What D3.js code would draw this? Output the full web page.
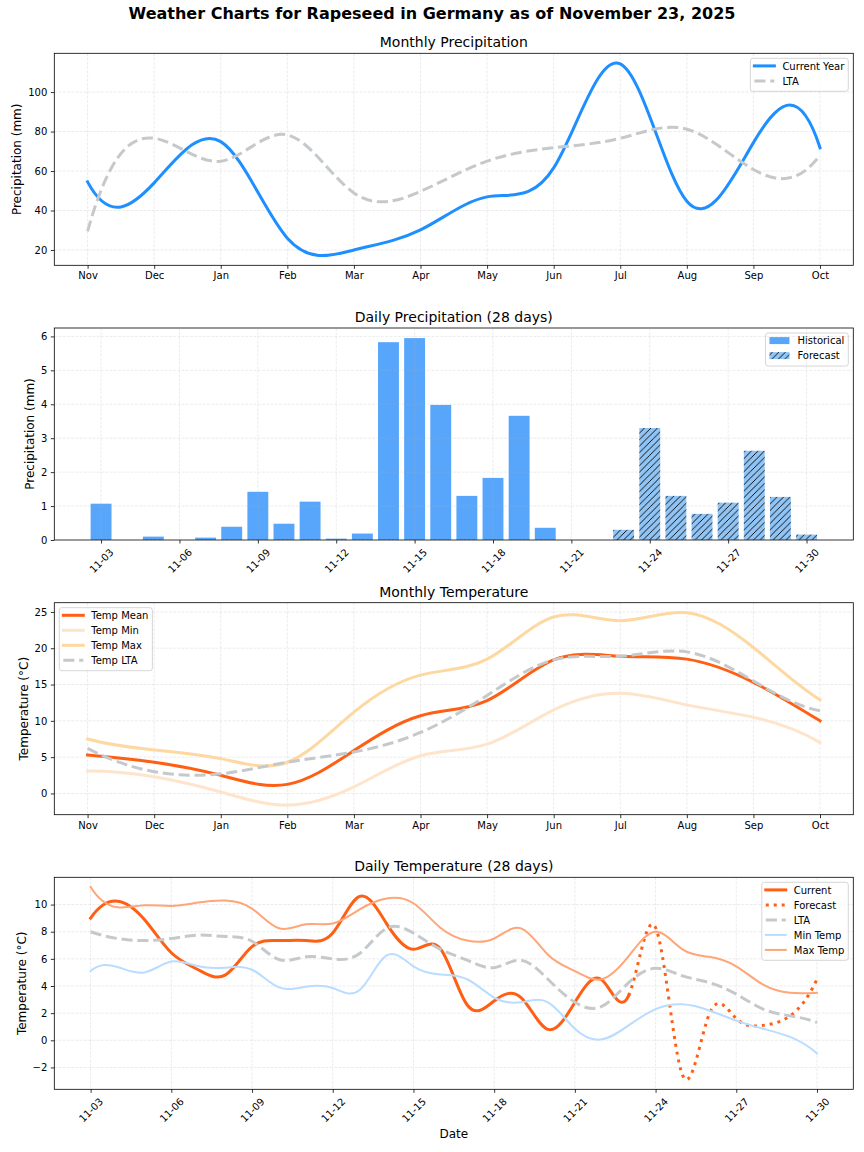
<!DOCTYPE html>
<html>
<head>
<meta charset="utf-8">
<script src="https://cdn.jsdelivr.net/npm/d3@7"></script>
<style>
  body { margin: 0; background: #fff; }
  svg { display: block; font-family: "DejaVu Sans", sans-serif; }
</style>
</head>
<body>
<svg id="chart" width="864" height="1152"></svg>
<script>
// monthly data (Nov .. Oct)
const months = ["Nov", "Dec", "Jan", "Feb", "Mar", "Apr", "May", "Jun", "Jul", "Aug", "Sep", "Oct"];
const precipCurrent = [54.5, 54.0, 74.9, 26.0, 20.0, 30.2, 46.9, 61.6, 114.3, 44.7, 74.4, 71.8];
const precipLTA = [29.4, 76.6, 65.0, 78.3, 48.9, 49.7, 65.0, 71.8, 76.6, 81.2, 60.8, 68.1];
const tempMean = [5.3, 4.3, 2.5, 1.25, 5.9, 10.7, 12.8, 18.4, 18.9, 18.5, 15.3, 10.0];
const tempMin = [3.1, 2.3, 0.2, -1.6, 0.9, 5.2, 6.8, 11.5, 13.8, 12.2, 10.5, 7.0];
const tempMax = [7.5, 6.0, 4.8, 4.3, 11.2, 16.3, 18.5, 24.3, 23.8, 24.9, 20.1, 12.9];
const tempLTA = [6.2, 3.0, 2.7, 4.3, 5.7, 8.4, 13.5, 18.4, 18.9, 19.5, 15.5, 11.4];

// daily data (28 days)
const days = ["11-03", "11-04", "11-05", "11-06", "11-07", "11-08", "11-09", "11-10", "11-11", "11-12",
  "11-13", "11-14", "11-15", "11-16", "11-17", "11-18", "11-19", "11-20", "11-21", "11-22",
  "11-23", "11-24", "11-25", "11-26", "11-27", "11-28", "11-29", "11-30"];
const dayTicks = ["11-03", "11-06", "11-09", "11-12", "11-15", "11-18", "11-21", "11-24", "11-27", "11-30"];
// historical 11-03 .. 11-22, forecast 11-23 .. 11-30
const dailyPrecipHist = [1.07, 0, 0.10, 0, 0.07, 0.39, 1.42, 0.48, 1.13, 0.04,
  0.19, 5.83, 5.95, 3.98, 1.30, 1.83, 3.66, 0.36, 0, 0];
const dailyPrecipFcst = [0.30, 3.30, 1.30, 0.77, 1.10, 2.63, 1.27, 0.16];
const dailyTempCurrent = [9.0, 10.25, 8.9, 6.45, 5.2, 4.8, 6.9, 7.35, 7.35, 7.9,
  10.6, 8.6, 6.7, 6.75, 2.6, 2.9, 3.15, 0.8, 2.8, 4.45];
const dailyTempFcst = [3.3, 8.3, -2.55, 1.95, 1.6, 1.1, 1.8, 4.5];
const dailyTempLTA = [8.0, 7.5, 7.35, 7.5, 7.75, 7.65, 7.3, 5.95, 6.15, 6.0,
  6.4, 8.25, 7.9, 6.7, 5.9, 5.35, 5.9, 4.5, 2.8, 2.5,
  4.25, 5.3, 4.75, 4.25, 3.4, 2.3, 1.8, 1.3];
const dailyTempMin = [5.1, 5.4, 5.0, 5.8, 5.45, 5.35, 5.2, 3.9, 3.95, 3.85,
  3.7, 6.25, 5.45, 4.85, 4.5, 3.15, 2.8, 2.8, 0.85, 0.07,
  1.1, 2.3, 2.65, 2.2, 1.45, 0.85, 0.25, -0.97];
const dailyTempMax = [11.3, 9.8, 9.95, 9.9, 10.15, 10.3, 9.7, 8.25, 8.55, 8.6,
  9.65, 10.45, 10.1, 8.3, 7.35, 7.5, 8.25, 6.3, 5.1, 4.5,
  6.2, 8.0, 6.7, 6.15, 5.45, 4.1, 3.5, 3.5];

// tick values
const precipTicks = [20, 40, 60, 80, 100];
const dailyPrecipTicks = [0, 1, 2, 3, 4, 5, 6];
const tempTicks = [0, 5, 10, 15, 20, 25];
const dailyTempTicks = [-2, 0, 2, 4, 6, 8, 10];

// colours
const blue = "#1e8fff", gray = "#c6c9cc", orange = "#ff5f14";
const histBlue = "#58a6fb", fcstBlue = "#8fc4f5";

const svg = d3.select("#chart");
const L = 54.3, R = 853.3, PH = 212;
const tops = [53.3, 328, 602.7, 877.3];

// cubic spline with not-a-knot ends (slopes at the knots)
function knotSlopes(x, y) {
  const n = x.length, dx = [], sl = [];
  for (let i = 0; i < n - 1; i++) { dx.push(x[i + 1] - x[i]); sl.push((y[i + 1] - y[i]) / dx[i]); }
  if (n === 2) return [sl[0], sl[0]];
  if (n === 3) {
    const c = (sl[1] - sl[0]) / (x[2] - x[0]);
    return [sl[0] - c * dx[0], sl[0] + c * dx[0], sl[1] + c * dx[1]];
  }
  const A = Array.from({length: n}, () => new Array(n).fill(0)), b = new Array(n).fill(0);
  let d = dx[0] + dx[1];
  A[0][0] = dx[1]; A[0][1] = d;
  b[0] = ((dx[0] + 2 * d) * dx[1] * sl[0] + dx[0] * dx[0] * sl[1]) / d;
  for (let i = 1; i < n - 1; i++) {
    A[i][i - 1] = dx[i]; A[i][i] = 2 * (dx[i - 1] + dx[i]); A[i][i + 1] = dx[i - 1];
    b[i] = 3 * (dx[i] * sl[i - 1] + dx[i - 1] * sl[i]);
  }
  d = dx[n - 3] + dx[n - 2];
  A[n - 1][n - 2] = d; A[n - 1][n - 1] = dx[n - 3];
  b[n - 1] = (dx[n - 2] * dx[n - 2] * sl[n - 3] + (2 * d + dx[n - 2]) * dx[n - 3] * sl[n - 2]) / d;
  for (let k = 0; k < n; k++) {
    let p = k;
    for (let i = k + 1; i < n; i++) if (Math.abs(A[i][k]) > Math.abs(A[p][k])) p = i;
    [A[k], A[p]] = [A[p], A[k]]; [b[k], b[p]] = [b[p], b[k]];
    for (let i = k + 1; i < n; i++) {
      const f = A[i][k] / A[k][k];
      if (!f) continue;
      for (let j = k; j < n; j++) A[i][j] -= f * A[k][j];
      b[i] -= f * b[k];
    }
  }
  const m = new Array(n);
  for (let i = n - 1; i >= 0; i--) {
    let s = b[i];
    for (let j = i + 1; j < n; j++) s -= A[i][j] * m[j];
    m[i] = s / A[i][i];
  }
  return m;
}

// d3 curve factory: spline fitted through all points, drawn only between knots i0..i1
function curveSplinePart(i0, i1) {
  return function (context) {
    let xs, ys;
    return {
      areaStart() {}, areaEnd() {},
      lineStart() { xs = []; ys = []; },
      point(x, y) { xs.push(+x); ys.push(+y); },
      lineEnd() {
        const n = xs.length;
        if (!n) return;
        const a = Math.max(0, i0), b = Math.min(n - 1, i1);
        context.moveTo(xs[a], ys[a]);
        if (n === 1) return;
        const m = knotSlopes(xs, ys);
        for (let i = a; i < b; i++) {
          const h = xs[i + 1] - xs[i];
          context.bezierCurveTo(xs[i] + h / 3, ys[i] + m[i] * h / 3,
            xs[i + 1] - h / 3, ys[i + 1] - m[i + 1] * h / 3, xs[i + 1], ys[i + 1]);
        }
      }
    };
  };
}
const curveSpline = curveSplinePart(0, Infinity);

// min/max reached by the smoothed curve (for axis limits)
function splineExtent(xs, ys) {
  const m = knotSlopes(xs, ys);
  let lo = Infinity, hi = -Infinity;
  for (let i = 0; i < xs.length - 1; i++) {
    const h = xs[i + 1] - xs[i];
    for (let k = 0; k <= 40; k++) {
      const t = k / 40, t2 = t * t, t3 = t2 * t;
      const v = (2 * t3 - 3 * t2 + 1) * ys[i] + (t3 - 2 * t2 + t) * h * m[i] +
        (-2 * t3 + 3 * t2) * ys[i + 1] + (t3 - t2) * h * m[i + 1];
      lo = Math.min(lo, v); hi = Math.max(hi, v);
    }
  }
  return [lo, hi];
}
function padded(ext) { const r = ext[1] - ext[0]; return [ext[0] - 0.05 * r, ext[1] + 0.05 * r]; }
function unionExt(list) { return [d3.min(list, e => e[0]), d3.max(list, e => e[1])]; }

// suptitle
svg.append("text").attr("x", 432).attr("y", 19).attr("text-anchor", "middle")
  .attr("font-size", 16).attr("font-weight", "bold")
  .text("Weather Charts for Rapeseed in Germany as of November 23, 2025");

function panel(i, title) {
  const top = tops[i], bottom = top + PH;
  const g = svg.append("g");
  g.append("text").attr("x", (L + R) / 2).attr("y", top - 6).attr("text-anchor", "middle")
    .attr("font-size", 14).text(title);
  const grid = g.append("g").attr("stroke", "#b0b0b0").attr("stroke-opacity", 0.3)
    .attr("stroke-width", 0.8).attr("stroke-dasharray", "2.96,1.28");
  const data = g.append("g");
  const axes = g.append("g");
  return {g, grid, data, axes, top, bottom};
}

function drawAxes(p, x, y, xTicks, xFormat, yTicks, yLabel, rotate) {
  p.grid.selectAll("line.gx").data(xTicks).join("line").attr("class", "gx")
    .attr("x1", d => x(d)).attr("x2", d => x(d)).attr("y1", p.top).attr("y2", p.bottom);
  p.grid.selectAll("line.gy").data(yTicks).join("line").attr("class", "gy")
    .attr("x1", L).attr("x2", R).attr("y1", d => y(d)).attr("y2", d => y(d));

  const xa = p.axes.append("g").attr("transform", `translate(0,${p.bottom})`)
    .call(d3.axisBottom(x).tickValues(xTicks).tickFormat(xFormat).tickSize(3.5).tickSizeOuter(0).tickPadding(3.5));
  xa.select(".domain").remove();
  xa.attr("font-family", "DejaVu Sans").attr("font-size", 10);
  xa.selectAll("line").attr("stroke-width", 0.8);
  if (rotate) {
    xa.selectAll("text").each(function () {
      const t = d3.select(this), w = this.getComputedTextLength();
      const half = (w + 10) * Math.SQRT1_2 / 2;
      t.attr("y", null).attr("dy", null).attr("dominant-baseline", "central")
        .attr("transform", `translate(0,${7 + half}) rotate(-45)`);
    });
  }

  const ya = p.axes.append("g").attr("transform", `translate(${L},0)`)
    .call(d3.axisLeft(y).tickValues(yTicks).tickFormat(d3.format("d")).tickSize(3.5).tickSizeOuter(0).tickPadding(3.5));
  ya.select(".domain").remove();
  ya.attr("font-family", "DejaVu Sans").attr("font-size", 10);
  ya.selectAll("line").attr("stroke-width", 0.8);
  const maxW = d3.max(ya.selectAll("text").nodes(), n => n.getComputedTextLength());
  const lx = L - 7 - maxW - 4 - 2.8;
  p.axes.append("text").attr("transform", `translate(${lx},${(p.top + p.bottom) / 2}) rotate(-90)`)
    .attr("text-anchor", "middle").attr("font-size", 12).text(yLabel);

  p.axes.append("rect").attr("x", L).attr("y", p.top).attr("width", R - L).attr("height", p.bottom - p.top)
    .attr("fill", "none").attr("stroke", "#000").attr("stroke-width", 0.8);
}

function legend(p, items, side) {
  const g = p.axes.append("g");
  const rowH = 15, h = 18 + (items.length - 1) * rowH;
  const frame = g.append("rect");
  const texts = g.selectAll("text").data(items).join("text").attr("font-size", 10).text(d => d.label);
  const tw = d3.max(texts.nodes(), n => n.getComputedTextLength());
  const w = 4 + 20 + 8 + tw + 4;
  const x0 = side === "right" ? R - 5 - w : L + 5, y0 = p.top + 5;
  frame.attr("x", x0).attr("y", y0).attr("width", w).attr("height", h).attr("rx", 2.5)
    .attr("fill", "#fff").attr("fill-opacity", 0.8).attr("stroke", "#cccccc").attr("stroke-width", 0.8);
  texts.attr("x", x0 + 32).attr("y", (d, i) => y0 + 7.6 + i * rowH + 3.6);
  items.forEach((d, i) => {
    const cy = y0 + 7.6 + i * rowH;
    if (d.fill) {
      g.append("rect").attr("x", x0 + 4).attr("y", cy - 3.5).attr("width", 20).attr("height", 7).attr("fill", d.fill);
    } else {
      g.append("line").attr("x1", x0 + 4).attr("x2", x0 + 24).attr("y1", cy).attr("y2", cy)
        .attr("stroke", d.color).attr("stroke-width", d.width)
        .attr("stroke-dasharray", d.dash || null).attr("stroke-linecap", d.dash ? "butt" : "square");
    }
  });
}

function plotLine(p, line, values, color, width, dash) {
  p.data.append("path").datum(values).attr("d", line).attr("fill", "none")
    .attr("stroke", color).attr("stroke-width", width).attr("stroke-linejoin", "round")
    .attr("stroke-linecap", dash ? "butt" : "square").attr("stroke-dasharray", dash || null);
}

const dashed = "11.1,4.8", dotted = "3,4.95";
const monthIdx = months.map((m, i) => i);
const dayIdx = days.map((d, i) => i);

// hatch pattern for forecast bars
const defs = svg.append("defs");
const pat = defs.append("pattern").attr("id", "hatch").attr("patternUnits", "userSpaceOnUse")
  .attr("width", 6.5).attr("height", 6.5);
pat.append("rect").attr("width", 6.5).attr("height", 6.5).attr("fill", fcstBlue);
pat.append("path").attr("d", "M-1,1 L1,-1 M0,6.5 L6.5,0 M5.5,7.5 L7.5,5.5")
  .attr("stroke", "#000").attr("stroke-width", 0.9);

// ---- 1. Monthly precipitation ----
{
  const p = panel(0, "Monthly Precipitation");
  const x = d3.scaleLinear().domain([-0.5, 11.5]).range([L, R]);
  const y = d3.scaleLinear().domain(padded(unionExt([
    splineExtent(monthIdx, precipCurrent), splineExtent(monthIdx, precipLTA)]))).range([p.bottom, p.top]);
  drawAxes(p, x, y, monthIdx, i => months[i], precipTicks, "Precipitation (mm)", false);
  const line = d3.line().x((d, i) => x(i)).y(d => y(d)).curve(curveSpline);
  plotLine(p, line, precipCurrent, blue, 3);
  plotLine(p, line, precipLTA, gray, 3, dashed);
  legend(p, [
    {label: "Current Year", color: blue, width: 3},
    {label: "LTA", color: gray, width: 3, dash: dashed}
  ], "right");
}

// ---- 2. Daily precipitation ----
{
  const p = panel(1, "Daily Precipitation (28 days)");
  const x = d3.scaleLinear().domain(padded([-0.4, days.length - 1 + 0.4])).range([L, R]);
  const allPrecip = dailyPrecipHist.concat(dailyPrecipFcst);
  const y = d3.scaleLinear().domain([0, d3.max(allPrecip) * 1.05]).range([p.bottom, p.top]);
  drawAxes(p, x, y, dayTicks.map(d => days.indexOf(d)), i => days[i], dailyPrecipTicks, "Precipitation (mm)", true);
  const bw = x(0.8) - x(0);
  const nh = dailyPrecipHist.length;
  p.data.selectAll("rect.hist").data(dailyPrecipHist).join("rect").attr("class", "hist")
    .attr("x", (d, i) => x(i) - bw / 2).attr("width", bw)
    .attr("y", d => y(d)).attr("height", d => y(0) - y(d)).attr("fill", histBlue);
  p.data.selectAll("rect.fcst").data(dailyPrecipFcst).join("rect").attr("class", "fcst")
    .attr("x", (d, i) => x(nh + i) - bw / 2).attr("width", bw)
    .attr("y", d => y(d)).attr("height", d => y(0) - y(d)).attr("fill", "url(#hatch)");
  p.grid.raise();
  legend(p, [
    {label: "Historical", fill: histBlue},
    {label: "Forecast", fill: "url(#hatch)"}
  ], "right");
}

// ---- 3. Monthly temperature ----
{
  const p = panel(2, "Monthly Temperature");
  const x = d3.scaleLinear().domain([-0.5, 11.5]).range([L, R]);
  const y = d3.scaleLinear().domain(padded(unionExt([tempMean, tempMin, tempMax, tempLTA]
    .map(s => splineExtent(monthIdx, s))))).range([p.bottom, p.top]);
  drawAxes(p, x, y, monthIdx, i => months[i], tempTicks, "Temperature (°C)", false);
  const line = d3.line().x((d, i) => x(i)).y(d => y(d)).curve(curveSpline);
  plotLine(p, line, tempMean, orange, 3);
  plotLine(p, line, tempMin, "#ffe4cc", 3);
  plotLine(p, line, tempMax, "#fdd8a0", 3);
  plotLine(p, line, tempLTA, gray, 3, dashed);
  legend(p, [
    {label: "Temp Mean", color: orange, width: 3},
    {label: "Temp Min", color: "#ffe4cc", width: 3},
    {label: "Temp Max", color: "#fdd8a0", width: 3},
    {label: "Temp LTA", color: gray, width: 3, dash: dashed}
  ], "left");
}

// ---- 4. Daily temperature ----
{
  const p = panel(3, "Daily Temperature (28 days)");
  const x = d3.scaleLinear().domain(padded([0, days.length - 1])).range([L, R]);
  // one smooth curve through observed + forecast days, split at the first forecast day
  const combined = dailyTempCurrent.concat(dailyTempFcst);
  const split = dailyTempCurrent.length;
  const y = d3.scaleLinear().domain(padded(unionExt([
    splineExtent(dayIdx, combined), splineExtent(dayIdx, dailyTempLTA),
    splineExtent(dayIdx, dailyTempMin), splineExtent(dayIdx, dailyTempMax)
  ]))).range([p.bottom, p.top]);
  drawAxes(p, x, y, dayTicks.map(d => days.indexOf(d)), i => days[i], dailyTempTicks, "Temperature (°C)", true);
  const line = d3.line().x((d, i) => x(i)).y(d => y(d)).curve(curveSpline);
  plotLine(p, line.curve(curveSplinePart(0, split)), combined, orange, 3);
  plotLine(p, d3.line().x((d, i) => x(i)).y(d => y(d)).curve(curveSplinePart(split, Infinity)),
    combined, orange, 3, dotted);
  const full = d3.line().x((d, i) => x(i)).y(d => y(d)).curve(curveSpline);
  plotLine(p, full, dailyTempLTA, gray, 3, dashed);
  plotLine(p, full, dailyTempMin, "#b9dcff", 2);
  plotLine(p, full, dailyTempMax, "#ffa577", 2);
  p.axes.append("text").attr("x", (L + R) / 2).attr("y", 1138).attr("text-anchor", "middle")
    .attr("font-size", 12).text("Date");
  legend(p, [
    {label: "Current", color: orange, width: 3},
    {label: "Forecast", color: orange, width: 3, dash: dotted},
    {label: "LTA", color: gray, width: 3, dash: dashed},
    {label: "Min Temp", color: "#b9dcff", width: 2},
    {label: "Max Temp", color: "#ffa577", width: 2}
  ], "right");
}
</script>
</body>
</html>
